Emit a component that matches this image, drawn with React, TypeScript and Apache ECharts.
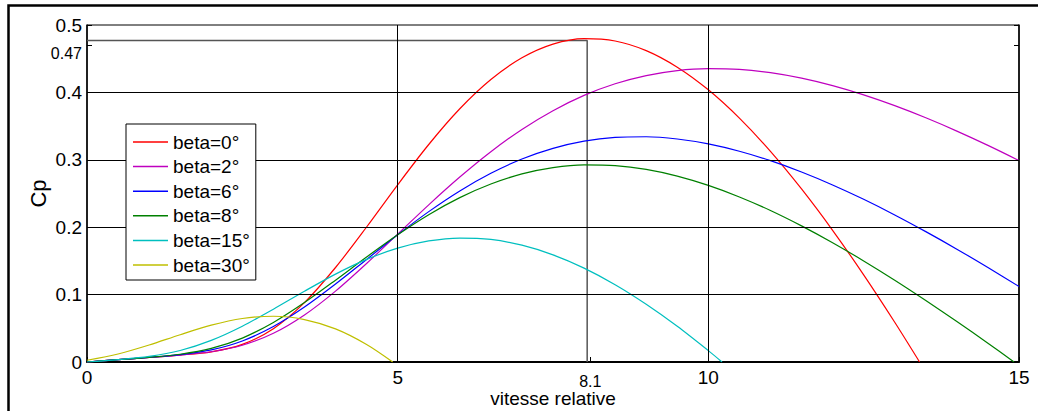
import React, { useEffect, useRef } from 'react';
import * as echarts from 'echarts';

// Relative speed (tip speed ratio) sample points
const LAMBDA = [0, 0.5, 1, 1.5, 2, 2.5, 3, 3.5, 4, 4.5, 5, 5.5, 6, 6.5, 7, 7.5, 8, 8.5, 9, 9.5, 10, 10.5, 11, 11.5, 12, 12.5, 13, 13.5, 14, 14.5, 15];

// Cp values (null = curve below the visible range)
const CP_BETA0 = [0, 0.0034, 0.0068, 0.0103, 0.0151, 0.0261, 0.0495, 0.0882, 0.1402, 0.2003, 0.2629, 0.3227, 0.3757, 0.4191, 0.4513, 0.4716, 0.4798, 0.4763, 0.462, 0.4374, 0.4038, 0.3618, 0.3125, 0.2567, 0.1954, 0.1293, 0.059, null, null, null, null];
const CP_BETA2 = [0, 0.0034, 0.0068, 0.0103, 0.0152, 0.0248, 0.0426, 0.0698, 0.1052, 0.1462, 0.1897, 0.2332, 0.2744, 0.312, 0.3451, 0.3729, 0.3956, 0.4128, 0.425, 0.4324, 0.4352, 0.4341, 0.4293, 0.4211, 0.41, 0.3963, 0.3803, 0.3623, 0.3426, 0.3214, 0.2989];
const CP_BETA6 = [0, 0.0034, 0.0068, 0.0109, 0.0179, 0.0312, 0.0526, 0.0815, 0.1156, 0.1521, 0.1887, 0.2231, 0.2538, 0.28, 0.3012, 0.317, 0.3277, 0.3333, 0.3342, 0.3309, 0.3236, 0.3127, 0.2987, 0.2819, 0.2627, 0.2414, 0.2182, 0.1934, 0.1674, 0.1402, 0.112];
const CP_BETA8 = [0, 0.0034, 0.0069, 0.0115, 0.0201, 0.0355, 0.0587, 0.0882, 0.1214, 0.1558, 0.1888, 0.2186, 0.2439, 0.2641, 0.279, 0.2883, 0.2924, 0.2914, 0.2857, 0.2758, 0.262, 0.2449, 0.2248, 0.202, 0.177, 0.15, 0.1214, 0.0913, 0.0601, 0.0279, null];
const CP_BETA15 = [0, 0.0035, 0.0083, 0.0171, 0.0321, 0.0531, 0.0784, 0.105, 0.1304, 0.1522, 0.1689, 0.1796, 0.1839, 0.1818, 0.1733, 0.159, 0.1393, 0.1147, 0.0857, 0.053, 0.0169, null, null, null, null, null, null, null, null, null, null];
const CP_BETA30 = [0.0026, 0.0119, 0.0252, 0.0405, 0.0546, 0.0645, 0.0679, 0.063, 0.0491, 0.026, null, null, null, null, null, null, null, null, null, null, null, null, null, null, null, null, null, null, null, null, null];

// Where each curve reaches Cp = 0 (null = stays above zero)
const ZERO_CROSSINGS = [13.4, null, null, 14.92, 10.22, 4.92];

const SERIES_NAMES = ['beta=0°', 'beta=2°', 'beta=6°', 'beta=8°', 'beta=15°', 'beta=30°'];
const SERIES_VALUES = [CP_BETA0, CP_BETA2, CP_BETA6, CP_BETA8, CP_BETA15, CP_BETA30];
const SERIES_COLORS = ['#ff0000', '#bf00bf', '#0000ff', '#008000', '#00bfbf', '#bfbf00'];

const X_TICKS = [0, 5, 8.1, 10, 15];
const Y_TICKS = [0, 0.1, 0.2, 0.3, 0.4, 0.47, 0.5];
const GRID_X = [5, 10];
const GRID_Y = [0.1, 0.2, 0.3, 0.4];
const PEAK_LAMBDA = 8.05;
const PEAK_CP = 0.477;

const FONT = '"Liberation Sans", Arial, Helvetica, sans-serif';

export default function App() {
  const ref = useRef<HTMLDivElement>(null);

  useEffect(() => {
    if (!ref.current) return;
    const chart = echarts.init(ref.current, undefined, { renderer: 'svg' });

    const curveSeries = SERIES_NAMES.map((name, k) => {
      const data: number[][] = [];
      LAMBDA.forEach((x, i) => {
        const v = SERIES_VALUES[k][i];
        if (v !== null && v !== undefined) data.push([x, v]);
      });
      const z = ZERO_CROSSINGS[k];
      if (z !== null) data.push([z, 0]);
      return {
        name,
        type: 'line',
        data,
        smooth: 0.3,
        symbol: 'none',
        showSymbol: false,
        silent: true,
        z: 3,
        lineStyle: { color: SERIES_COLORS[k], width: 1.2 },
        itemStyle: { color: SERIES_COLORS[k] },
      };
    });

    const option: any = {
      animation: false,
      backgroundColor: '#ffffff',
      textStyle: { fontFamily: FONT, color: '#000' },
      grid: {
        left: 87,
        top: 25,
        width: 932,
        height: 337,
        containLabel: false,
        outerBoundsMode: 'none',
        show: true,
        borderColor: '#000',
        borderWidth: 1,
        backgroundColor: '#fff',
      },
      legend: {
        show: true,
        data: SERIES_NAMES,
        orient: 'vertical',
        left: 126,
        top: 124,
        padding: [8, 6, 5, 7],
        icon: 'rect',
        itemWidth: 35,
        itemHeight: 1.5,
        itemGap: 4.6,
        borderColor: '#000',
        borderWidth: 1,
        borderRadius: 0,
        backgroundColor: '#fff',
        selectedMode: false,
        textStyle: { fontFamily: FONT, fontSize: 19, color: '#000', lineHeight: 20 },
        z: 10,
      },
      xAxis: {
        type: 'value',
        min: 0,
        max: 15,
        name: 'vitesse relative',
        nameLocation: 'middle',
        nameGap: 27,
        nameMoveOverlap: false,
        nameTextStyle: { fontFamily: FONT, fontSize: 19, color: '#000' },
        axisLine: { show: true, onZero: false, lineStyle: { color: '#000', width: 2 } },
        axisTick: { show: true, inside: true, length: 5, customValues: X_TICKS, lineStyle: { color: '#000' } },
        axisLabel: {
          show: true,
          customValues: X_TICKS,
          margin: 6,
          fontFamily: FONT,
          fontSize: 19,
          color: '#000',
          alignMinLabel: 'center',
          alignMaxLabel: 'center',
          formatter: (v: number) => (v === 8.1 ? '{s|8.1}' : String(v)),
          rich: { s: { fontFamily: FONT, fontSize: 16, color: '#000', padding: [5, 0, 0, 0] } },
        },
        splitLine: { show: false },
      },
      yAxis: [
        {
          type: 'value',
          min: 0,
          max: 0.5,
          name: 'Cp',
          nameLocation: 'middle',
          nameGap: 38,
          nameMoveOverlap: false,
          nameTextStyle: { fontFamily: FONT, fontSize: 22, color: '#000' },
          axisLine: { show: true, onZero: false, lineStyle: { color: '#000', width: 1.5 } },
          axisTick: { show: true, inside: true, length: 5, customValues: Y_TICKS, lineStyle: { color: '#000' } },
          axisLabel: {
            show: true,
            customValues: Y_TICKS,
            margin: 5,
            fontFamily: FONT,
            fontSize: 19,
            color: '#000',
            verticalAlignMinLabel: 'middle',
            verticalAlignMaxLabel: 'middle',
            formatter: (v: number) => (v === 0.47 ? '{s|0.47}' : String(v)),
            rich: { s: { fontFamily: FONT, fontSize: 16, color: '#000', padding: [16, 0, 0, 0] } },
          },
          splitLine: { show: false },
        },
        {
          type: 'value',
          min: 0,
          max: 0.5,
          position: 'right',
          axisLine: { show: true, onZero: false, lineStyle: { color: '#000', width: 1.5 } },
          axisTick: { show: true, inside: true, length: 5, customValues: Y_TICKS, lineStyle: { color: '#000' } },
          axisLabel: { show: false },
          splitLine: { show: false },
        },
      ],
      graphic: [
        {
          type: 'polyline',
          silent: true,
          z: 100,
          shape: { points: [[8.5, 411], [8.5, 5.5], [1038, 5.5]] },
          style: { stroke: '#000', lineWidth: 2.5, fill: null },
        },
      ],
      series: [
        {
          name: 'peak',
          type: 'line',
          data: [[0, PEAK_CP], [PEAK_LAMBDA, PEAK_CP], [PEAK_LAMBDA, 0]],
          symbol: 'none',
          silent: true,
          z: 1,
          lineStyle: { color: '#555', width: 1.5 },
          markLine: {
            silent: true,
            symbol: ['none', 'none'],
            label: { show: false },
            lineStyle: { color: '#000', width: 1, type: 'solid' },
            emphasis: { disabled: true },
            data: [
              ...GRID_X.map((x) => ({ xAxis: x })),
              ...GRID_Y.map((y) => ({ yAxis: y })),
            ],
          },
        },
        ...curveSeries,
      ],
    };

    chart.setOption(option);
    return () => chart.dispose();
  }, []);

  return (
    <div
      ref={ref}
      style={{ position: 'fixed', left: 0, top: 0, width: 1038, height: 411, background: '#fff' }}
    />
  );
}
